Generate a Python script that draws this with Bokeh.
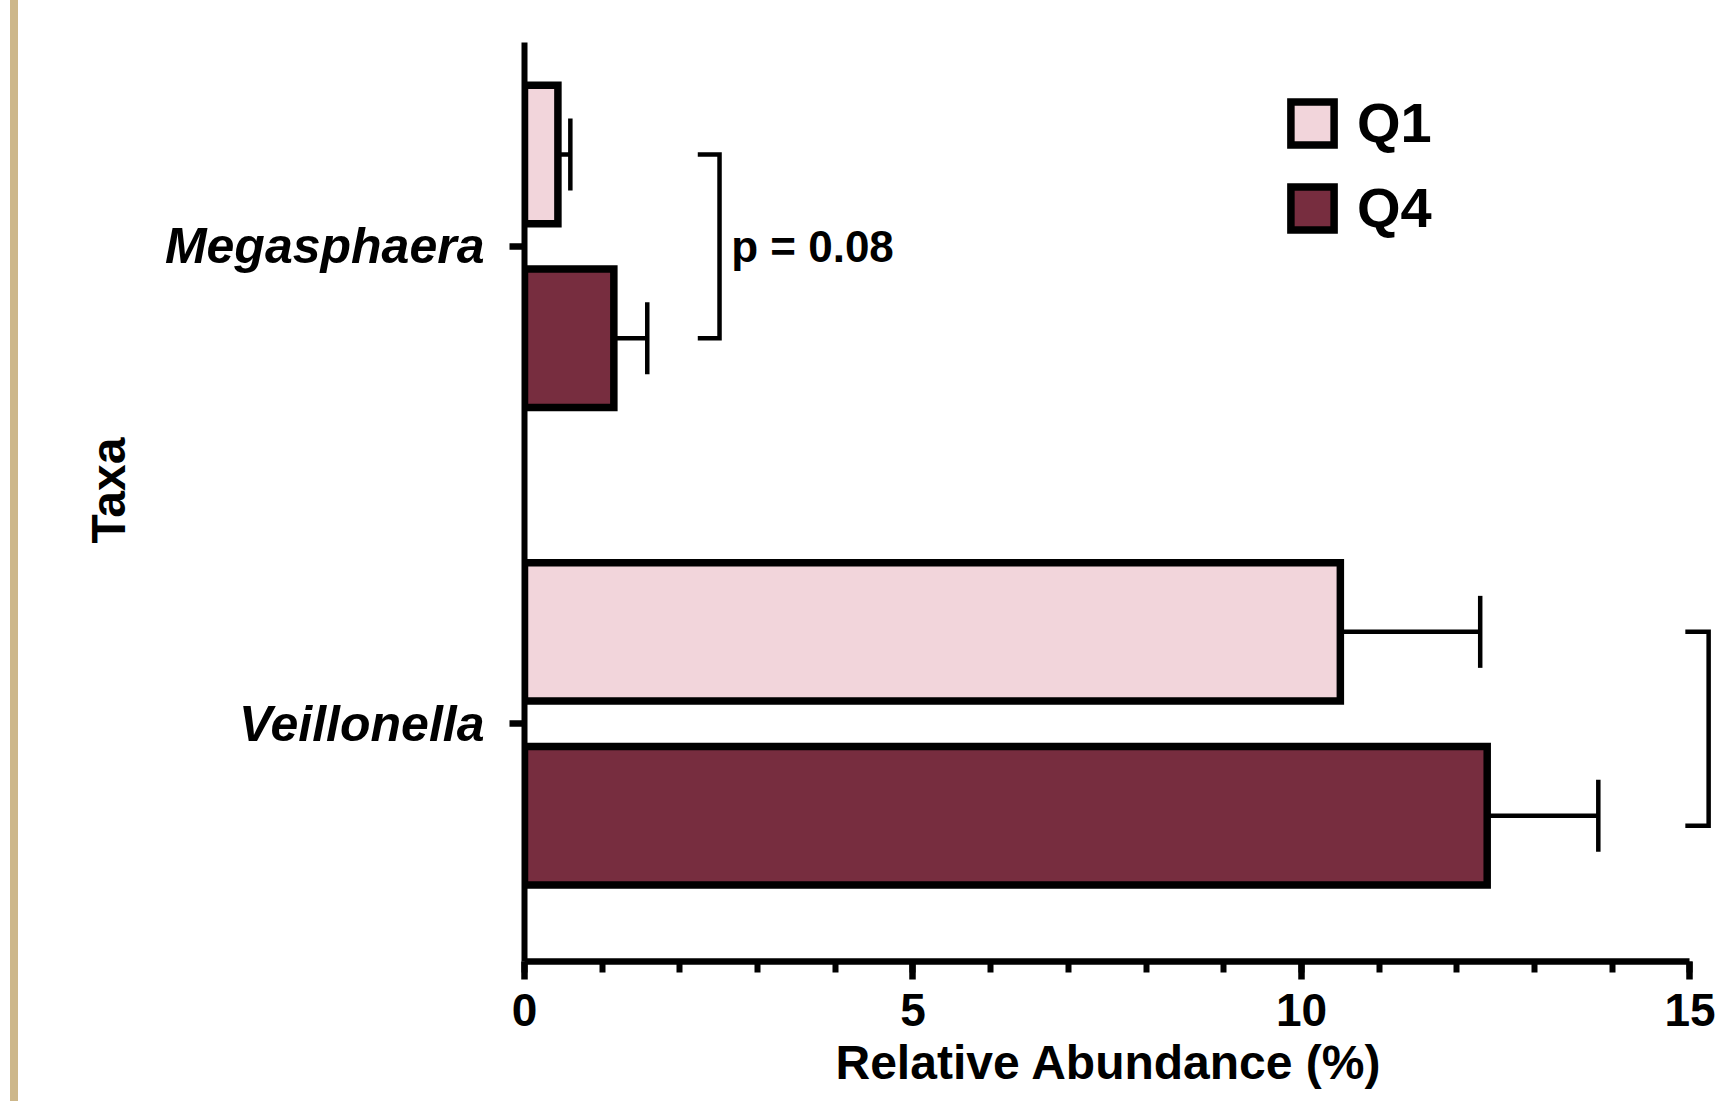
from bokeh.plotting import figure
from bokeh.models import (Range1d, FixedTicker, Whisker, TeeHead, ColumnDataSource,
                          Legend, LegendItem, Spacer, Title)
from bokeh.layouts import row
from bokeh.embed import file_html
from bokeh.resources import INLINE
from bokeh.core.properties import value

# ---------------- data ----------------
taxa = ["Megasphaera", "Veillonella"]
groups = ["Q1", "Q4"]
q1_mean = [0.43, 10.50]
q1_sem = [0.16, 1.80]
q4_mean = [1.15, 12.39]
q4_sem = [0.43, 1.43]
p_labels = ["p = 0.08", ""]
x_ticks = [0, 5, 10, 15]
x_minor = list(range(0, 16))
x_title = "Relative Abundance (%)"
y_title = "Taxa"

# ---------------- style ----------------
FONT = "Liberation Sans"
COL = {"Q1": "#F2D5DB", "Q4": "#772D3F"}
BAR_H = 0.29
OFF = 0.1925

W, H = 1715, 1101
p = figure(width=W, height=H, output_backend="svg", toolbar_location=None,
           x_range=Range1d(0, 15.457), y_range=Range1d(-0.498, 1.427),
           min_border_left=506, min_border_right=8, min_border_top=42,
           min_border_bottom=140)
p.grid.visible = False
p.outline_line_color = None
p.background_fill_color = "white"
p.border_fill_color = "white"

n = len(taxa)
ypos = [n - 1 - i for i in range(n)]

renderers = {}
for g, mean, sem, sign in (("Q1", q1_mean, q1_sem, 1), ("Q4", q4_mean, q4_sem, -1)):
    src = ColumnDataSource(dict(
        y=[yy + sign * OFF for yy in ypos],
        mean=mean,
        upper=[m + s for m, s in zip(mean, sem)],
    ))
    w = Whisker(source=src, base="y", lower="mean", upper="upper", dimension="width",
                line_width=4.5, line_color="black",
                upper_head=TeeHead(size=72, line_width=4.5, line_color="black"),
                lower_head=None, level="glyph")
    p.add_layout(w)
    r = p.hbar(y="y", left=0, right="mean", height=BAR_H, source=src,
               fill_color=COL[g], line_color="black", line_width=7.5,
               line_join="miter")
    renderers[g] = r

# significance brackets (annotation placement)
br_x0 = [2.23, 14.94]
br_x1 = [2.51, 15.24]
br_drop = [0.0, 0.021]
xs, ys = [], []
for i, yy in enumerate(ypos):
    yt, yb = yy + OFF, yy - OFF - br_drop[i]
    xs.append([br_x0[i], br_x1[i], br_x1[i], br_x0[i]])
    ys.append([yt, yt, yb, yb])
p.multi_line(xs=xs, ys=ys, line_color="black", line_width=4.5, line_join="miter")

p.text(x=[br_x1[i] + 0.15 for i in range(n)], y=ypos, text=p_labels,
       text_font=value(FONT), text_font_size="44px", text_font_style="bold",
       text_baseline="middle", text_align="left", text_color="black")

# ---------------- axes ----------------
xa = p.xaxis[0]
xa.ticker = FixedTicker(ticks=x_ticks, minor_ticks=x_minor)
xa.bounds = (0, 15)
xa.axis_line_width = 6.5
xa.major_tick_line_width = 6.5
xa.minor_tick_line_width = 6
xa.major_tick_out = 18
xa.major_tick_in = 0
xa.minor_tick_out = 11
xa.minor_tick_in = 0
xa.major_label_text_font = FONT
xa.major_label_text_font_size = "46px"
xa.major_label_text_font_style = "bold"
xa.major_label_text_color = "black"
xa.major_label_standoff = 14

ya = p.yaxis[0]
ya.ticker = FixedTicker(ticks=ypos, minor_ticks=[])
ya.major_label_overrides = {ypos[i]: taxa[i] for i in range(n)}
ya.axis_line_width = 6
ya.major_tick_line_width = 6.5
ya.major_tick_out = 15
ya.major_tick_in = 0
ya.minor_tick_out = 0
ya.major_label_text_font = FONT
ya.major_label_text_font_size = "50px"
ya.major_label_text_font_style = "bold italic"
ya.major_label_text_color = "black"
ya.major_label_standoff = 25

# axis titles as side-panel titles (allow exact placement)
p.add_layout(Title(text=x_title, align="left", offset=311, vertical_align="top",
                   standoff=14, text_font=FONT, text_font_size="48px",
                   text_font_style="bold", text_color="black"), "below")
p.add_layout(Title(text=y_title, align="left", offset=418, standoff=54,
                   text_font=FONT, text_font_size="48px",
                   text_font_style="bold", text_color="black"), "left")

# ---------------- legend ----------------
legend = Legend(items=[LegendItem(label=g, renderers=[renderers[g]]) for g in groups],
                location=(761, 721), orientation="vertical", padding=0, margin=0,
                spacing=20, glyph_width=54, glyph_height=54, label_height=54,
                label_standoff=18, label_text_font=FONT, label_text_font_size="56px",
                label_text_font_style="bold", label_text_color="black",
                border_line_color=None, background_fill_alpha=0)
p.add_layout(legend)

# decorative page border strip on the left (part of the original page)
pad = Spacer(width=10, height=H, styles={"background-color": "white"})
strip = Spacer(width=8, height=H, styles={"background-color": "#CDB78A"})
layout = row(pad, strip, p, spacing=0)

open("out.html", "w").write(file_html(layout, INLINE))
